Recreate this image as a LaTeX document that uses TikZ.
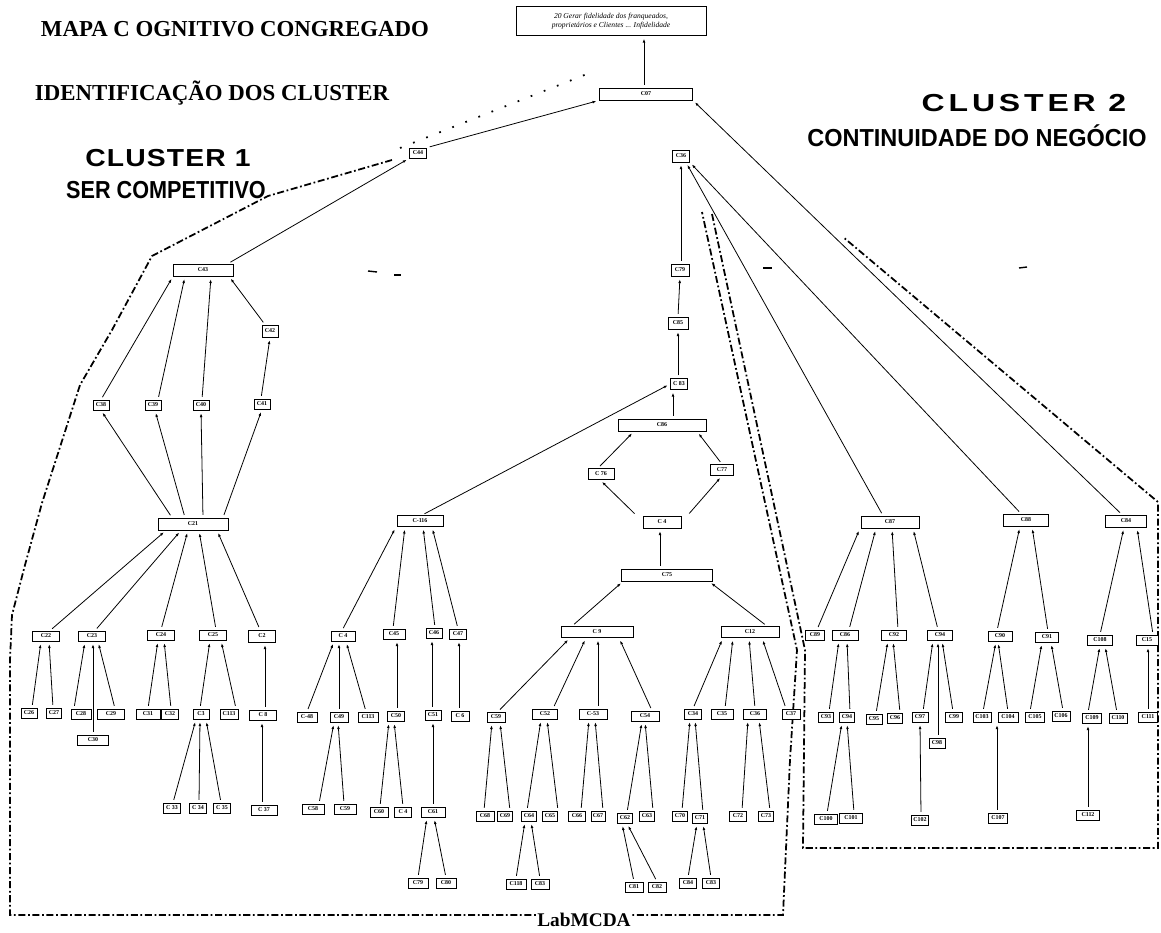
\documentclass[tikz,border=0pt]{standalone}
\usepackage{fontspec}
\usetikzlibrary{arrows.meta}
\newfontfamily\serifb{Liberation Serif}
\newfontfamily\sansb{Liberation Sans}
\newdimen\px
\px=0.02cm
% lower.north -> upper.south, arrow at the upper box
\newcommand\lnk[4]{\draw[ed] ([xshift=#4\px]#3.north) -- ([xshift=#2\px]#1.south);}
\tikzset{
  cn/.style={draw, line width=0.45pt, fill=white, inner sep=0pt,
    minimum height=10\px, minimum width=#1\px,
    font=\serifb\bfseries\fontsize{3.4}{4}\selectfont},
  cn/.default=18,
  ed/.style={line width=0.45pt, shorten <=1.6pt, shorten >=1.6pt,
    -{Latex[length=2.2pt,width=1.6pt]}},
  bd/.style={line width=1pt, dash pattern=on 4pt off 1.5pt on 1pt off 1.5pt},
  ttl/.style={font=\serifb\bfseries\fontsize{13}{15}\selectfont, inner sep=0pt},
  ctl/.style={font=\sansb\bfseries\fontsize{14}{16}\selectfont, inner sep=0pt},
}
\begin{document}
\begin{tikzpicture}[x=0.02cm, y=-0.02cm]
\fill[white] (0,0) rectangle (1161,933);
\useasboundingbox (0,0) rectangle (1161,933);

% ---- titles ----
\node[ttl] (t1) at (235,29) {MAPA C OGNITIVO CONGREGADO};
\node[ttl] (t2) at (212,93) {IDENTIFICAÇÃO DOS CLUSTER};
\node[ctl] (k1a) at (168,158) {\scalebox{1.15}[1]{\addfontfeature{LetterSpace=4}CLUSTER 1}};
\node[ctl] (k1b) at (166,190) {\scalebox{0.88}[1]{SER COMPETITIVO}};
\node[ctl] (k2a) at (1024,103) {\scalebox{1.3}[1]{\addfontfeature{LetterSpace=12}CLUSTER 2}};
\node[ctl] (k2b) at (977,136) {\scalebox{0.955}[1]{CONTINUIDADE DO NEGÓCIO}};

% ---- cluster boundaries ----
\draw[line width=1pt, dash pattern=on 1pt off 7pt] (400,148) -- (592,72);
\draw[bd] (392,160) -- (268,196) -- (152,256) -- (112,330) -- (80,385)
  -- (42,503) -- (25,565) -- (12,615) -- (10,660) -- (10,915)
  -- (783,915) -- (790,760) -- (797,650) -- (702,212);
\draw[bd] (712,214) -- (805,650) -- (803,848) -- (1158,848)
  -- (1158,502) -- (843,237);
% stray short strokes
\draw[line width=0.8pt] (368,271) -- (377,272);
\draw[line width=0.8pt] (394,275) -- (401,275);
\draw[line width=0.8pt] (763,268) -- (772,268);
\draw[line width=0.8pt] (1019,268) -- (1027,267);

\node[font=\serifb\bfseries\fontsize{11}{12}\selectfont, fill=white, inner sep=1pt]
  (lab) at (584,920) {LabMCDA};

% ---- root and top ----
\node[cn=190, minimum height=29\px, align=center,
  font=\serifb\itshape\fontsize{4.3}{5}\selectfont] (root) at (611,21)
  {20 Gerar fidelidade dos franqueados,\\proprietários e Clientes ... Infidelidade};
\node[cn=93, minimum height=12\px] (c07) at (646,94) {C07};
\node[cn=17] (c44) at (418,153) {C44};
\node[cn=17, minimum height=12\px] (c36) at (681,156) {C36};

% ---- cluster 1, left part ----
\node[cn=60, minimum height=12\px] (c43) at (203,270) {C43};
\node[cn=16, minimum height=12\px] (c42) at (270,331) {C42};
\node[cn=16] (c38) at (101,405) {C38};
\node[cn=16] (c39) at (153,405) {C39};
\node[cn=16] (c40) at (201,405) {C40};
\node[cn=16] (c41) at (262,404) {C41};
\node[cn=70, minimum height=12\px] (c21) at (193,524) {C21};
\node[cn=27] (c22) at (46,636) {C22};
\node[cn=27] (c23) at (92,636) {C23};
\node[cn=27] (c24) at (161,635) {C24};
\node[cn=27] (c25) at (213,635) {C25};
\node[cn=27, minimum height=12\px] (c2) at (262,636) {C2};
\node[cn=16] (c26) at (29,713) {C26};
\node[cn=15] (c27) at (54,713) {C27};
\node[cn=20] (c28) at (81,714) {C28};
\node[cn=27] (c29) at (111,714) {C29};
\node[cn=31] (c30) at (93,740) {C30};
\node[cn=24] (c31) at (148,714) {C31};
\node[cn=17] (c32) at (170,714) {C32};
\node[cn=16] (c3) at (201,714) {C3};
\node[cn=18] (c113a) at (229,714) {C113};
\node[cn=27] (c8) at (263,715) {C 8};
\node[cn=17] (c33) at (172,808) {C 33};
\node[cn=17] (c34a) at (198,808) {C 34};
\node[cn=17] (c35a) at (222,808) {C 35};
\node[cn=26] (c37a) at (264,810) {C 37};

% ---- cluster 1, C-116 branch ----
\node[cn=46, minimum height=11\px] (c116) at (420,521) {C-116};
\node[cn=24] (c4a) at (343,636) {C 4};
\node[cn=22] (c45) at (394,634) {C45};
\node[cn=16] (c46) at (434,633) {C46};
\node[cn=17] (c47) at (458,634) {C47};
\node[cn=20] (c48) at (307,717) {C-48};
\node[cn=18] (c49) at (339,717) {C49};
\node[cn=20] (c113b) at (368,717) {C113};
\node[cn=17] (c50) at (396,716) {C50};
\node[cn=16] (c51) at (433,715) {C51};
\node[cn=18] (c6) at (460,716) {C 6};
\node[cn=22] (c58) at (313,809) {C58};
\node[cn=22] (c59b) at (345,809) {C59};
\node[cn=18] (c60) at (379,812) {C60};
\node[cn=17] (c4b) at (403,812) {C 4};
\node[cn=24] (c61) at (433,812) {C61};
\node[cn=20] (c79b) at (418,883) {C79};
\node[cn=20] (c80) at (446,883) {C80};

% ---- cluster 1, centre column ----
\node[cn=18, minimum height=12\px] (c79) at (680,270) {C79};
\node[cn=20, minimum height=12\px] (c85) at (678,323) {C85};
\node[cn=17, minimum height=11\px] (c83) at (679,384) {C 83};
\node[cn=88, minimum height=12\px] (c86) at (662,425) {C86};
\node[cn=26, minimum height=11\px] (c76) at (601,474) {C 76};
\node[cn=23, minimum height=11\px] (c77) at (722,470) {C77};
\node[cn=38, minimum height=12\px] (c4c) at (662,522) {C 4};
\node[cn=91, minimum height=12\px] (c75) at (667,575) {C75};
\node[cn=72, minimum height=11\px] (c9) at (597,632) {C 9};
\node[cn=58, minimum height=11\px] (c12) at (750,632) {C12};
\node[cn=18] (c59) at (496,717) {C59};
\node[cn=25] (c52) at (545,714) {C52};
\node[cn=28] (c53) at (593,714) {C-53};
\node[cn=28] (c54) at (645,716) {C54};
\node[cn=17] (c34) at (693,714) {C34};
\node[cn=22] (c35) at (722,714) {C35};
\node[cn=23] (c36b) at (755,714) {C36};
\node[cn=18] (c37) at (791,714) {C37};
\node[cn=18] (c68) at (485,816) {C68};
\node[cn=15] (c69) at (505,816) {C69};
\node[cn=15] (c64) at (529,816) {C64};
\node[cn=15] (c65) at (550,816) {C65};
\node[cn=17] (c66) at (577,816) {C66};
\node[cn=14] (c67) at (598,816) {C67};
\node[cn=15] (c62) at (625,818) {C62};
\node[cn=15] (c63) at (647,816) {C63};
\node[cn=15] (c70) at (680,816) {C70};
\node[cn=15] (c71) at (700,818) {C71};
\node[cn=17] (c72) at (738,816) {C72};
\node[cn=15] (c73) at (766,816) {C73};
\node[cn=20] (c118) at (516,884) {C118};
\node[cn=18] (c83b) at (540,884) {C83};
\node[cn=18] (c81) at (634,887) {C81};
\node[cn=18] (c82) at (657,887) {C82};
\node[cn=17] (c84) at (688,883) {C84};
\node[cn=17] (c83c) at (711,883) {C83};

% ---- cluster 2 ----
\node[cn=58, minimum height=12\px] (c87) at (890,522) {C87};
\node[cn=45, minimum height=12\px] (c88) at (1026,520) {C88};
\node[cn=41, minimum height=12\px] (c84r) at (1126,521) {C84};
\node[cn=19] (c89) at (815,635) {C89};
\node[cn=26] (c86r) at (845,635) {C86};
\node[cn=25] (c92) at (894,635) {C92};
\node[cn=25] (c94) at (940,635) {C94};
\node[cn=24] (c90) at (1000,636) {C90};
\node[cn=23] (c91) at (1047,637) {C91};
\node[cn=25] (c108) at (1100,640) {C108};
\node[cn=22] (c15) at (1147,640) {C15};
\node[cn=15] (c93) at (826,717) {C93};
\node[cn=15] (c94b) at (847,717) {C94};
\node[cn=16] (c95) at (874,719) {C95};
\node[cn=15] (c96) at (895,718) {C96};
\node[cn=16] (c97) at (920,717) {C97};
\node[cn=17] (c99) at (954,717) {C99};
\node[cn=16] (c98) at (937,743) {C98};
\node[cn=18] (c103) at (982,717) {C103};
\node[cn=20] (c104) at (1008,717) {C104};
\node[cn=19] (c105) at (1035,717) {C105};
\node[cn=18] (c106) at (1061,716) {C106};
\node[cn=19] (c109) at (1092,718) {C109};
\node[cn=18] (c110) at (1118,718) {C110};
\node[cn=19] (c111) at (1148,717) {C111};
\node[cn=23] (c100) at (826,819) {C100};
\node[cn=23] (c101) at (851,818) {C101};
\node[cn=17] (c102) at (920,820) {C102};
\node[cn=19] (c107) at (998,818) {C107};
\node[cn=23] (c112) at (1088,815) {C112};

% ---- connectors: top ----
\draw[ed] ([xshift=-2\px]c07.north) -- ([xshift=33\px]root.south);
\draw[ed] (c44.north east) -- (c07.south west);
\draw[ed] ([xshift=25\px]c43.north) -- (c44.south west);
\draw[ed] ([xshift=-4\px]c84r.north) -- (c07.south east);
\draw[ed] ([xshift=-5\px]c88.north) -- (c36.south east);
\draw[ed] ([xshift=-7\px]c87.north) -- ([xshift=5\px]c36.south);
\draw[ed] ([xshift=2\px]c116.north) -- (c83.west);

% ---- connectors: cluster 1 left ----
\lnk{c43}{-30}{c38}{0}
\lnk{c43}{-18}{c39}{5}
\lnk{c43}{8}{c40}{1}
\lnk{c43}{26}{c42}{-5}
\lnk{c42}{0}{c41}{-1}
\lnk{c38}{0}{c21}{-21}
\lnk{c39}{2}{c21}{-8}
\lnk{c40}{0}{c21}{10}
\lnk{c41}{0}{c21}{30}
\lnk{c21}{-27}{c22}{4}
\lnk{c21}{-12}{c23}{3}
\lnk{c21}{-5}{c24}{0}
\lnk{c21}{6}{c25}{3}
\lnk{c21}{24}{c2}{-2}
\lnk{c22}{-5}{c26}{3}
\lnk{c22}{3}{c27}{-1}
\lnk{c23}{-7}{c28}{-7}
\lnk{c23}{1}{c30}{0}
\lnk{c23}{6}{c29}{4}
\lnk{c24}{-3}{c31}{0}
\lnk{c24}{3}{c32}{1}
\lnk{c25}{-3}{c3}{-1}
\lnk{c25}{8}{c113a}{7}
\lnk{c2}{3}{c8}{2}
\lnk{c3}{-5}{c33}{1}
\lnk{c3}{-1}{c34a}{1}
\lnk{c3}{5}{c35a}{-1}
\lnk{c8}{-1}{c37a}{-2}

% ---- connectors: C-116 branch ----
\lnk{c116}{-24}{c4a}{-1}
\lnk{c116}{-15}{c45}{-1}
\lnk{c116}{3}{c46}{1}
\lnk{c116}{12}{c47}{0}
\lnk{c4a}{-9}{c48}{0}
\lnk{c4a}{-4}{c49}{0}
\lnk{c4a}{3}{c113b}{-2}
\lnk{c45}{3}{c50}{1}
\lnk{c46}{-2}{c51}{-1}
\lnk{c47}{1}{c6}{-1}
\lnk{c49}{-5}{c58}{6}
\lnk{c49}{-1}{c59b}{-1}
\lnk{c50}{-7}{c60}{1}
\lnk{c50}{-2}{c4b}{0}
\lnk{c51}{0}{c61}{0}
\lnk{c61}{-6}{c79b}{0}
\lnk{c61}{1}{c80}{0}

% ---- connectors: centre column ----
\lnk{c36}{0}{c79}{1}
\lnk{c79}{0}{c85}{0}
\lnk{c85}{0}{c83}{-1}
\lnk{c83}{-6}{c86}{11}
\lnk{c86}{-28}{c76}{-3}
\lnk{c86}{35}{c77}{0}
\draw[ed] ([xshift=-6\px]c4c.north west) -- ([xshift=-1\px]c76.south);
\draw[ed] ([xshift=6\px]c4c.north east) -- (c77.south);
\lnk{c4c}{-2}{c75}{-7}
\lnk{c75}{-44}{c9}{-25}
\lnk{c75}{42}{c12}{17}
\lnk{c9}{-27}{c59}{2}
\lnk{c9}{-11}{c52}{8}
\lnk{c9}{1}{c53}{5}
\lnk{c9}{22}{c54}{7}
\lnk{c12}{-27}{c34}{0}
\lnk{c12}{-17}{c35}{3}
\lnk{c12}{-1}{c36b}{0}
\lnk{c12}{12}{c37}{-5}
\lnk{c59}{-4}{c68}{-1}
\lnk{c59}{4}{c69}{5}
\lnk{c52}{-4}{c64}{-2}
\lnk{c52}{2}{c65}{8}
\lnk{c53}{-4}{c66}{4}
\lnk{c53}{2}{c67}{5}
\lnk{c54}{-3}{c62}{2}
\lnk{c54}{0}{c63}{6}
\lnk{c34}{-3}{c70}{2}
\lnk{c34}{2}{c71}{3}
\lnk{c36b}{-7}{c72}{4}
\lnk{c36b}{4}{c73}{4}
\lnk{c64}{-4}{c118}{0}
\lnk{c64}{2}{c83b}{0}
\lnk{c62}{-3}{c81}{0}
\lnk{c62}{2}{c82}{0}
\lnk{c71}{-3}{c84}{0}
\lnk{c71}{3}{c83c}{0}

% ---- connectors: cluster 2 ----
\lnk{c87}{-30}{c89}{2}
\lnk{c87}{-14}{c86r}{4}
\lnk{c87}{2}{c92}{4}
\lnk{c87}{23}{c94}{-2}
\lnk{c88}{-6}{c90}{-3}
\lnk{c88}{6}{c91}{1}
\lnk{c84r}{-2}{c108}{0}
\lnk{c84r}{11}{c15}{6}
\lnk{c86r}{-6}{c93}{3}
\lnk{c86r}{2}{c94b}{3}
\lnk{c92}{-6}{c95}{2}
\lnk{c92}{-1}{c96}{5}
\lnk{c94}{-7}{c97}{3}
\lnk{c94}{-2}{c98}{1}
\lnk{c94}{2}{c99}{-1}
\lnk{c90}{-4}{c103}{1}
\lnk{c90}{-2}{c104}{0}
\lnk{c91}{-5}{c105}{-5}
\lnk{c91}{4}{c106}{2}
\lnk{c108}{0}{c109}{-4}
\lnk{c108}{5}{c110}{-1}
\lnk{c15}{1}{c111}{0}
\lnk{c94b}{-5}{c100}{1}
\lnk{c94b}{0}{c101}{3}
\lnk{c97}{0}{c102}{1}
\lnk{c104}{-11}{c107}{-1}
\lnk{c109}{-4}{c112}{0}
\end{tikzpicture}
\end{document}
